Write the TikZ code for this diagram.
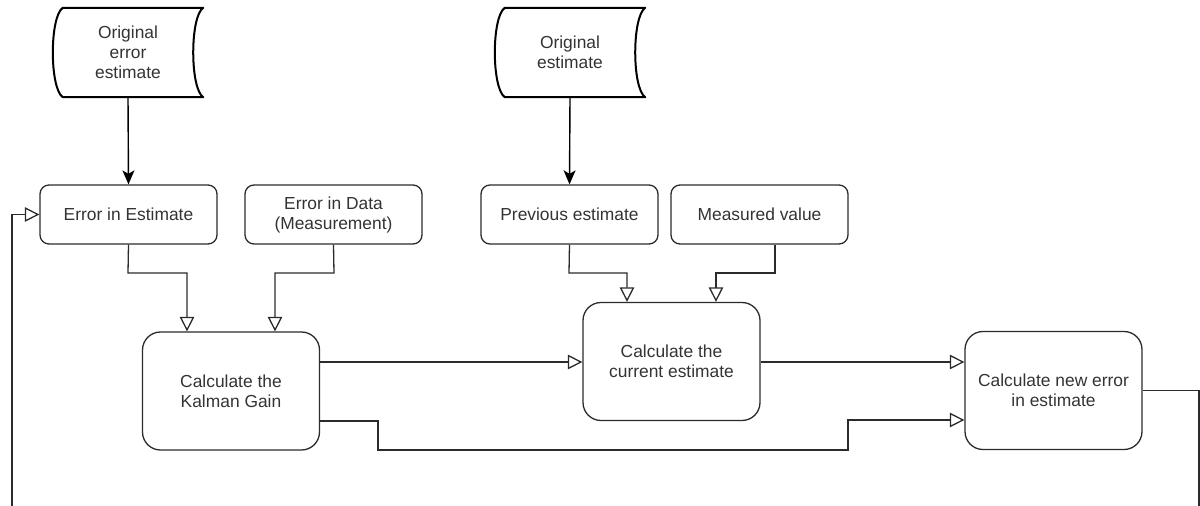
\documentclass[tikz,border=0pt]{standalone}
\usepackage{fontspec}
\setmainfont{Liberation Sans}
\usetikzlibrary{arrows.meta,calc}
\definecolor{ink}{HTML}{333333}
\definecolor{edge}{HTML}{2B2B2B}

\tikzset{
  lbl/.style={font=\fontsize{17.4}{20}\selectfont, text=ink, align=center, inner sep=0pt},
  stepbox/.style={lbl, draw=edge, line width=1.3pt, rounded corners=9pt,
                  minimum width=177pt, minimum height=59pt},
  calcbox/.style={lbl, draw=edge, line width=1.3pt, rounded corners=18pt,
                  minimum width=177pt, minimum height=118pt},
  storebox/.style={lbl, minimum width=150pt, minimum height=89pt},
  storeline/.style={draw=black, line width=2pt, line join=round},
  flow/.style={draw=edge, line width=1.3pt, -{Triangle[open, length=14.5pt, width=14.5pt]}},
  feed/.style={draw=black, line width=1.4pt, -{Stealth[length=14pt, width=12pt, inset=3.5pt]}},
}

% stored-data outline around a named node
\newcommand\storedshape[1]{%
  \draw[storeline] ([xshift=10pt]#1.north west) -- (#1.north east)
    .. controls ([xshift=-13.3pt,yshift=-9pt]#1.north east)
           and ([xshift=-13.3pt,yshift=9pt]#1.south east) .. (#1.south east)
    -- ([xshift=10pt]#1.south west)
    .. controls ([xshift=-3.3pt,yshift=9pt]#1.south west)
           and ([xshift=-3.3pt,yshift=-9pt]#1.north west) .. ([xshift=10pt]#1.north west)
    -- cycle;}

\begin{document}
\begin{tikzpicture}[x=1pt, y=-1pt]
  \useasboundingbox (0,0) rectangle (1200,506);

  % data sources
  \node[storebox] (s1) at (128,52.5) {Original\\error\\estimate};
  \node[storebox] (s2) at (570,52.5) {Original\\estimate};
  \storedshape{s1}
  \storedshape{s2}

  % inputs
  \node[stepbox] (e1) at (128.5,214.5) {Error in Estimate};
  \node[stepbox] (e2) at (333.5,214.5) {Error in Data\\(Measurement)};
  \node[stepbox] (p)  at (569.5,214.5) {Previous estimate};
  \node[stepbox] (m)  at (759.5,214.5) {Measured value};

  % processing steps
  \node[calcbox] (k) at (231,391)     {Calculate the\\Kalman Gain};
  \node[calcbox] (c) at (671.5,361.5) {Calculate the\\current estimate};
  \node[calcbox] (n) at (1053.5,390.5) {Calculate new error\\in estimate};

  % feed from stored data
  \draw[feed] (s1.south) -- (e1.north);
  \draw[feed] (s2.south) -- (p.north);

  % into Kalman gain
  \draw[flow] (e1.south) -- (128,273) -- (187,273) -- (k.north -| 187,0);
  \draw[flow] (e2.south) -- (334,273) -- (275,273) -- (k.north -| 275,0);

  % into current estimate
  \draw[flow] (p.south) -- (569,273) -- (627,273) -- (c.north -| 627,0);
  \draw[flow] ([xshift=15.5pt]m.south) -- (775,273) -- (716,273) -- (c.north -| 716,0);

  % gain to current estimate and to new error
  \draw[flow] (k.east |- 0,362) -- (c.west |- 0,362);
  \draw[flow] (k.east |- 0,421) -- (378,421) -- (378,450) -- (848,450) -- (848,420) -- (n.west |- 0,420);
  \draw[flow] (c.east |- 0,362) -- (n.west |- 0,362);

  % feedback loop
  \coordinate (loopR) at (1199,506);
  \coordinate (loopL) at (12,506);
  \draw[draw=edge, line width=1.3pt] (n.east) -- (1199,390.5) -- (loopR);
  \draw[flow] (loopL) -- (12,214.5) -- (e1.west);
\end{tikzpicture}
\end{document}
